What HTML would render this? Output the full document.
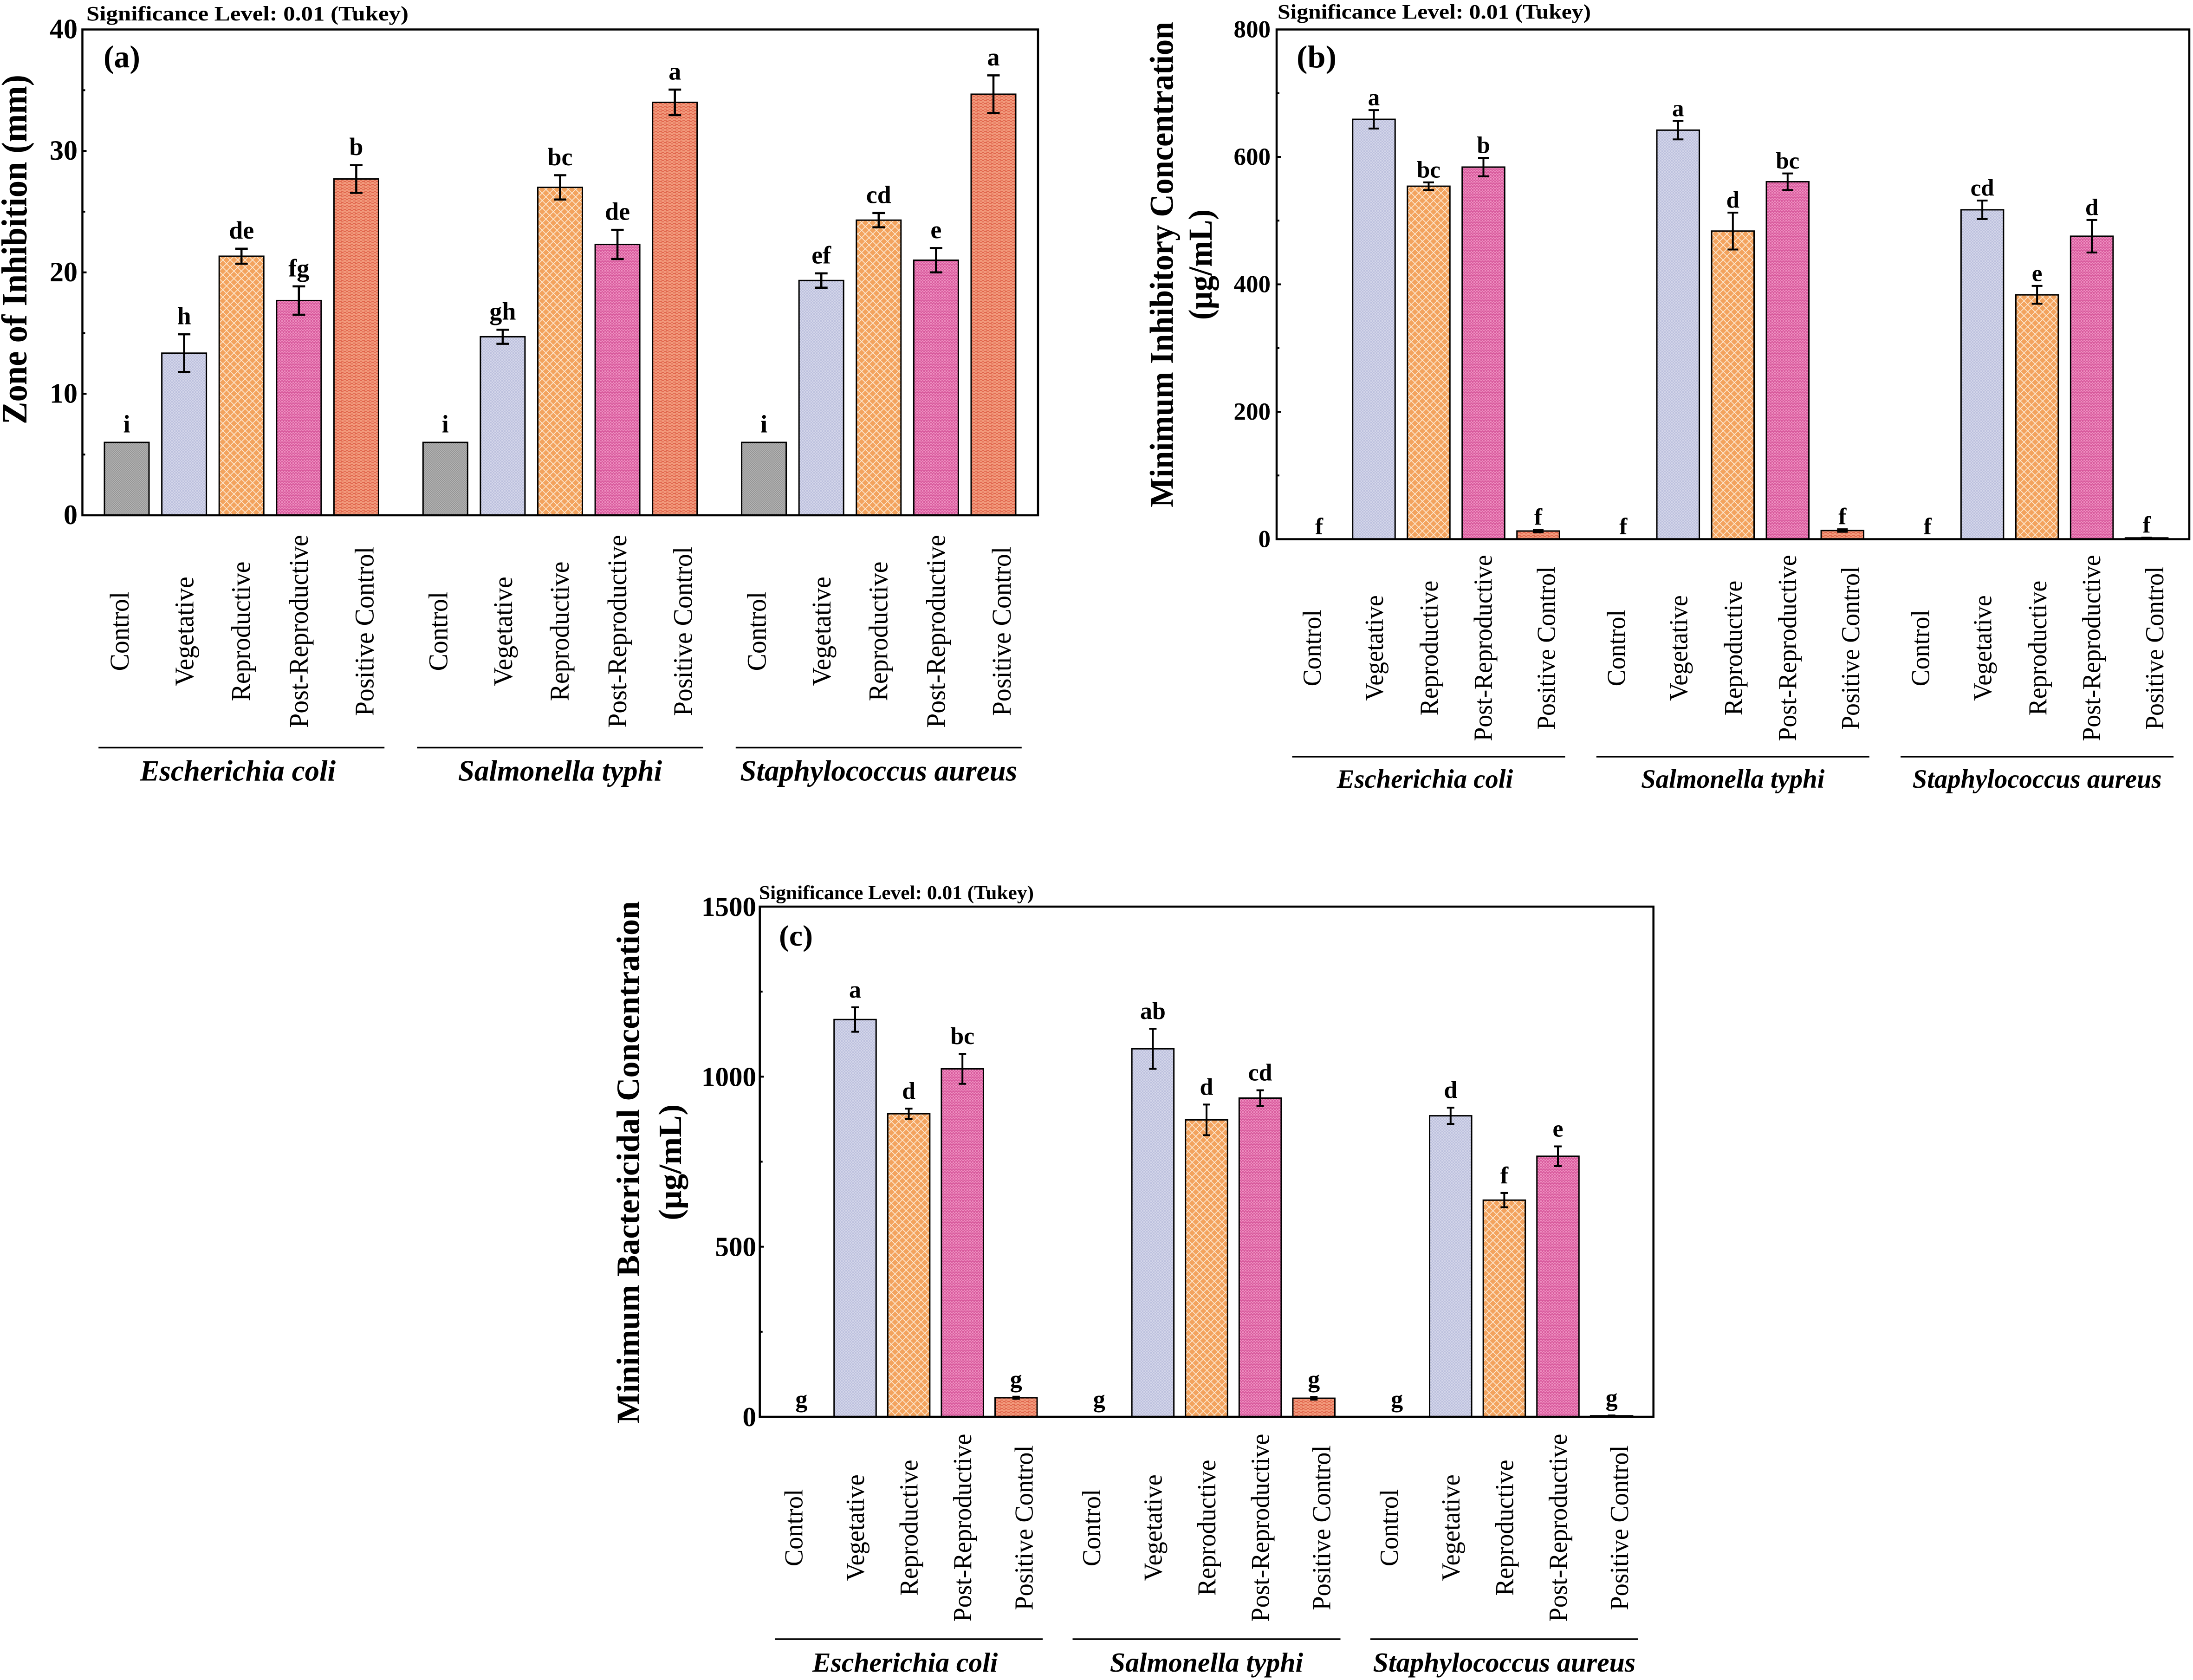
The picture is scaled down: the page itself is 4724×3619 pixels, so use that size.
<!DOCTYPE html>
<html lang="en">
<head>
<meta charset="utf-8">
<title>Antibacterial activity bar charts</title>
<style>
html,body{margin:0;padding:0;background:#fff;}
svg{display:block;}
text{font-family:"Liberation Serif",serif;fill:#000;}
.bold{font-weight:700;}
</style>
</head>
<body>
<svg id="figure" xmlns="http://www.w3.org/2000/svg" width="4724" height="3619" viewBox="0 0 4724 3619">
<defs>
<pattern id="fill-control" patternUnits="userSpaceOnUse" width="4" height="4"><rect width="4" height="4" fill="#949494"/><rect width="2" height="2" fill="#b4b4b4"/><rect x="2" y="2" width="2" height="2" fill="#b4b4b4"/></pattern>
<pattern id="fill-vegetative" patternUnits="userSpaceOnUse" width="6" height="6"><rect width="6" height="6" fill="#bcc0dd"/><rect width="3" height="3" fill="#d4d6ea"/><rect x="3" y="3" width="3" height="3" fill="#d4d6ea"/></pattern>
<pattern id="fill-reproductive" patternUnits="userSpaceOnUse" width="16" height="16"><rect width="16" height="16" fill="#f3a35e"/><path d="M0 0L16 16M16 0L0 16" stroke="#fdebd6" stroke-width="1.6"/></pattern>
<pattern id="fill-post" patternUnits="userSpaceOnUse" width="6" height="6"><rect width="6" height="6" fill="#d95c9e"/><rect x="0" y="0" width="3" height="3" fill="#ee8fc0"/><rect x="3" y="3" width="3" height="2" fill="#ee8fc0"/></pattern>
<pattern id="fill-positive" patternUnits="userSpaceOnUse" width="10" height="6"><rect width="10" height="6" fill="#f29a7c"/><rect x="0" y="0" width="6" height="2" fill="#e0664d"/><rect x="5" y="3" width="5" height="2" fill="#e0664d"/></pattern>
</defs>

<g id="panel-a">
  <text class="bold" x="186" y="44" font-size="44" textLength="694" lengthAdjust="spacingAndGlyphs">Significance Level: 0.01 (Tukey)</text>
  <text class="bold" x="223" y="145" font-size="68" textLength="79" lengthAdjust="spacingAndGlyphs">(a)</text>
  <text class="bold" transform="translate(57,537.5) rotate(-90)" text-anchor="middle" font-size="77" textLength="753" lengthAdjust="spacingAndGlyphs">Zone of Inhibition (mm)</text>
</g>
<g id="panel-b">
  <text class="bold" x="2752" y="40" font-size="44" textLength="675" lengthAdjust="spacingAndGlyphs">Significance Level: 0.01 (Tukey)</text>
  <text class="bold" x="2793" y="145" font-size="68" textLength="86" lengthAdjust="spacingAndGlyphs">(b)</text>
  <text class="bold" transform="translate(2526.5,570) rotate(-90)" text-anchor="middle" font-size="72" textLength="1046" lengthAdjust="spacingAndGlyphs">Minimum Inhibitory Concentration</text>
  <text class="bold" transform="translate(2610,570) rotate(-90)" text-anchor="middle" font-size="72" textLength="238" lengthAdjust="spacingAndGlyphs">(µg/mL)</text>
</g>
<g id="panel-c">
  <text class="bold" x="1635" y="1937" font-size="42" textLength="592" lengthAdjust="spacingAndGlyphs">Significance Level: 0.01 (Tukey)</text>
  <text class="bold" x="1678" y="2037" font-size="64" textLength="73" lengthAdjust="spacingAndGlyphs">(c)</text>
  <text class="bold" transform="translate(1376.5,2503.8) rotate(-90)" text-anchor="middle" font-size="70" textLength="1125" lengthAdjust="spacingAndGlyphs">Minimum Bactericidal Concentration</text>
  <text class="bold" transform="translate(1467,2503.8) rotate(-90)" text-anchor="middle" font-size="70" textLength="250" lengthAdjust="spacingAndGlyphs">(µg/mL)</text>
</g>
</svg>

<script>
const categories = ['Control', 'Vegetative', 'Reproductive', 'Post-Reproductive', 'Positive Control'];
const groups = ['Escherichia coli', 'Salmonella typhi', 'Staphylococcus aureus'];

const zoneValues = [6, 13.35, 21.33, 17.68, 27.69, 6, 14.7, 27.0, 22.3, 34.0, 6, 19.33, 24.3, 21.0, 34.67];
const zoneErrors = [0, 1.55, 0.62, 1.17, 1.14, 0, 0.58, 1.0, 1.2, 1.05, 0, 0.59, 0.59, 1.0, 1.55];
const zoneLetters = ['i', 'h', 'de', 'fg', 'b', 'i', 'gh', 'bc', 'de', 'a', 'i', 'ef', 'cd', 'e', 'a'];
const zoneTicks = [0, 10, 20, 30, 40];

const micValues = [0, 659, 554, 584, 12.8, 0, 642, 483.6, 561, 13.6, 0, 517, 383.5, 475.5, 2];
const micErrors = [0, 14.5, 6, 14.5, 2, 0, 14.5, 29, 13, 2, 0, 14.5, 14, 25.5, 0.5];
const micLetters = ['f', 'a', 'bc', 'b', 'f', 'f', 'a', 'd', 'bc', 'f', 'f', 'cd', 'e', 'd', 'f'];
const micTicks = [0, 200, 400, 600, 800];

const mbcValues = [0, 1168, 891, 1023, 56, 0, 1082, 873, 937, 54.5, 0, 885, 637, 766, 3];
const mbcErrors = [0, 36, 15, 44, 3, 0, 59, 45, 23, 4, 0, 24, 21, 29, 1];
const mbcLetters = ['g', 'a', 'd', 'bc', 'g', 'g', 'ab', 'd', 'cd', 'g', 'g', 'd', 'f', 'e', 'g'];
const mbcTicks = [0, 500, 1000, 1500];

const fills = ['fill-control', 'fill-vegetative', 'fill-reproductive', 'fill-post', 'fill-positive'];

const SVG_NS = 'http://www.w3.org/2000/svg';

function make(tag, attrs, parent) {
  const node = document.createElementNS(SVG_NS, tag);
  for (const k in attrs) node.setAttribute(k, attrs[k]);
  parent.appendChild(node);
  return node;
}

function drawPanel(p) {
  const root = document.getElementById(p.id);
  const yScale = v => p.bottom - (v / p.yMax) * (p.bottom - p.top);
  const xScale = (g, i) => p.firstCenter + p.pitch * i + p.groupStep * g;

  // bars, error bars, significance letters
  p.values.forEach((v, n) => {
    const g = Math.floor(n / categories.length);
    const i = n % categories.length;
    const cx = xScale(g, i);
    const err = p.errors[n];
    if (v > 0) {
      const bar = make('rect', {
        x: cx - p.barWidth / 2, y: yScale(v),
        width: p.barWidth, height: p.bottom - yScale(v),
        fill: 'url(#' + fills[i] + ')', stroke: '#000', 'stroke-width': 3
      }, root);
      
      
    }
    if (err > 0) {
      const errBar = make('path', {
        d: 'M' + (cx - p.cap / 2) + ' ' + yScale(v + err) + 'H' + (cx + p.cap / 2) +
           'M' + cx + ' ' + yScale(v + err) + 'V' + yScale(v - err) +
           'M' + (cx - p.cap / 2) + ' ' + yScale(v - err) + 'H' + (cx + p.cap / 2),
        fill: 'none', stroke: '#000', 'stroke-width': p.errWidth
      }, root);
      
      
    }
    const letter = make('text', {
      x: cx, y: yScale(v + err) - p.letterGap,
      'text-anchor': 'middle', 'font-size': p.letterSize, 'font-weight': 700
    }, root);
    letter.textContent = p.letters[n];
    
    

    // category label
    const catLabel = make('text', {
      transform: 'translate(' + (cx + p.catOffsets[i]) + ',' + p.catCenterY + ') rotate(-90) scale(0.963,1)',
      'text-anchor': 'middle', 'font-size': p.catSize
    }, root);
    catLabel.textContent = categories[i];
    
    
  });

  // group rules and names
  groups.forEach((name, g) => {
    const cx = xScale(g, 2);
    const rule = make('line', {
      x1: cx - p.ruleHalf, x2: cx + p.ruleHalf, y1: p.ruleY, y2: p.ruleY,
      stroke: '#000', 'stroke-width': 3.5
    }, root);
    
    
    const label = make('text', {
      x: cx + (g === 0 ? -8 : 0), y: p.groupBaseline, 'text-anchor': 'middle',
      'font-size': p.groupSize, 'font-weight': 700, 'font-style': 'italic'
    }, root);
    label.textContent = name;
    
    
  });

  // plot frame
  const frame = make('rect', {
    x: p.left, y: p.top, width: p.right - p.left, height: p.bottom - p.top,
    fill: 'none', stroke: '#000', 'stroke-width': 4.5
  }, root);
  
  

  // y ticks
  p.ticks.forEach((t, idx) => {
    const tick = make('line', {
      x1: p.left, x2: p.left + 9, y1: yScale(t), y2: yScale(t),
      stroke: '#000', 'stroke-width': 4
    }, root);
    
    
    const tickLabel = make('text', {
      x: p.tickRight, y: yScale(t) + p.tickDy, 'text-anchor': 'end',
      'font-size': p.tickSize, 'font-weight': 700
    }, root);
    tickLabel.textContent = String(t);
    
    
    if (idx < p.ticks.length - 1) {
      const mid = (t + p.ticks[idx + 1]) / 2;
      const minor = make('line', {
        x1: p.left, x2: p.left + 6, y1: yScale(mid), y2: yScale(mid),
        stroke: '#000', 'stroke-width': 4
      }, root);
      
      
    }
  });
}

drawPanel({
  id: 'panel-a', key: 'a', values: zoneValues, errors: zoneErrors, letters: zoneLetters, ticks: zoneTicks,
  yMax: 40, left: 177.5, right: 2236, top: 63.5, bottom: 1110,
  firstCenter: 273, pitch: 123.6, groupStep: 686.3, barWidth: 96,
  cap: 27, errWidth: 4.5, letterGap: 21.5, letterSize: 54,
  tickRight: 167, tickDy: 19, tickSize: 60,
  catOffsets: [4, 20, 18.5, 19, 37], catCenterY: 1360, catSize: 58,
  ruleY: 1610.5, ruleHalf: 308, groupBaseline: 1681.5, groupSize: 63
});
drawPanel({
  id: 'panel-b', key: 'b', values: micValues, errors: micErrors, letters: micLetters, ticks: micTicks,
  yMax: 800, left: 2750, right: 4716, top: 63.5, bottom: 1161.5,
  firstCenter: 2841.5, pitch: 118, groupStep: 655.3, barWidth: 91.5,
  cap: 23, errWidth: 4, letterGap: 10.5, letterSize: 51,
  tickRight: 2737, tickDy: 17, tickSize: 53,
  catOffsets: [3.6, 19.6, 19.7, 18, 36], catCenterY: 1396, catSize: 56,
  ruleY: 1630, ruleHalf: 294, groupBaseline: 1697, groupSize: 56.7
});
drawPanel({
  id: 'panel-c', key: 'c', values: mbcValues, errors: mbcErrors, letters: mbcLetters, ticks: mbcTicks,
  yMax: 1500, left: 1636.7, right: 3561.7, top: 1953, bottom: 3052,
  firstCenter: 1726.4, pitch: 115.6, groupStep: 641.4, barWidth: 90.5,
  cap: 16, errWidth: 4, letterGap: 21, letterSize: 52,
  tickRight: 1629, tickDy: 20, tickSize: 59,
  catOffsets: [2, 19, 19, 19, 35.5], catCenterY: 3291, catSize: 56.5,
  ruleY: 3531, ruleHalf: 288.5, groupBaseline: 3601, groupSize: 59.7
});
</script>
</body>
</html>
